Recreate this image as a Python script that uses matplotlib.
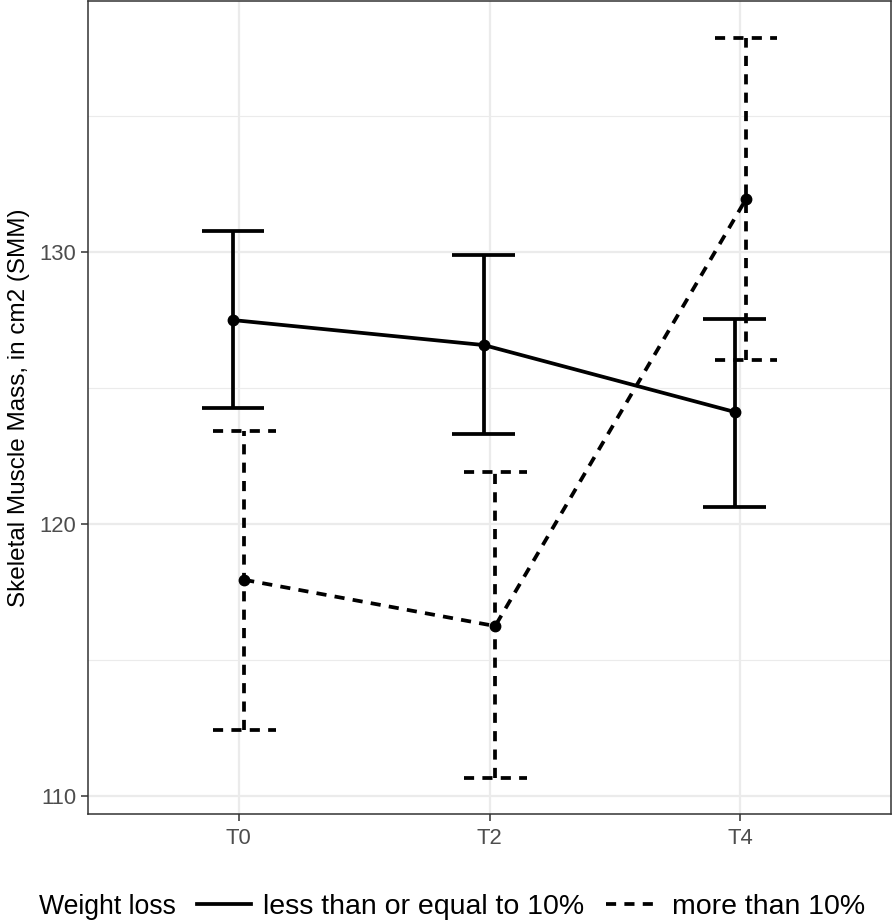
import numpy as np
import matplotlib.pyplot as plt
from matplotlib.lines import Line2D

plt.rcParams['font.family'] = ['Liberation Sans', 'DejaVu Sans']

times = ['T0', 'T2', 'T4']
groups = ['less than or equal to 10%', 'more than 10%']

# means and error-bar limits per group
le_mean = [127.49, 126.57, 124.11]
le_lo = [124.25, 123.30, 120.61]
le_hi = [130.76, 129.88, 127.53]

gt_mean = [117.94, 116.24, 131.94]
gt_lo = [112.42, 110.65, 126.02]
gt_hi = [123.41, 121.90, 137.86]

means = [le_mean, gt_mean]
lows = [le_lo, gt_lo]
highs = [le_hi, gt_hi]
styles = ['-', (0, (2.7, 2.2))]

W, H, DPI = 894, 924, 100
fig = plt.figure(figsize=(W / DPI, H / DPI), dpi=DPI)
ax = fig.add_axes([88 / W, 1 - 814 / H, (891 - 88) / W, (814 - 1) / H])

x = np.arange(len(times)) + 1
dodge = 0.045
cap = 0.125
lw = 2.7

for i, g in enumerate(groups):
    xs = x + (i - 0.5) * dodge
    ls = styles[i]
    ax.plot(xs, means[i], color='black', lw=lw, linestyle=ls, zorder=3)
    ax.vlines(xs, lows[i], highs[i], color='black', lw=lw, linestyles=[ls], zorder=3)
    ax.hlines(lows[i], xs - cap, xs + cap, color='black', lw=lw, linestyles=[ls], zorder=3)
    ax.hlines(highs[i], xs - cap, xs + cap, color='black', lw=lw, linestyles=[ls], zorder=3)
    ax.plot(xs, means[i], 'o', color='black', ms=7.5, zorder=4)

ax.set_xlim(0.4, 3.6)
ax.set_ylim(109.33, 139.22)
ax.set_xticks(x)
ax.set_xticklabels(times)
ax.set_yticks([110, 120, 130])
ax.set_yticks([115, 125, 135], minor=True)
ax.tick_params(which='major', length=5, width=1.1, color='#333333',
               labelsize=15.8, labelcolor='#4D4D4D', pad=3.5)
ax.tick_params(axis='x', pad=5)
ax.tick_params(which='minor', length=0)
ax.grid(which='major', color='#EBEBEB', lw=1.6, zorder=0)
ax.grid(which='minor', axis='y', color='#EBEBEB', lw=0.8, zorder=0)
ax.set_axisbelow(True)
for s in ax.spines.values():
    s.set_color('#333333')
    s.set_linewidth(1.1)

ax.set_ylabel('Skeletal Muscle Mass, in cm2 (SMM)', fontsize=17.5, labelpad=7)

# legend at the bottom, title on the left
fig.text(39 / W, 1 - 907 / H, 'Weight loss', fontsize=19.2, va='center', ha='left')
handles = [Line2D([], [], color='black', lw=lw, linestyle=styles[i]) for i in range(2)]
fig.legend(handles, groups, loc='center left', bbox_to_anchor=(197 / W, 1 - 907 / H),
           ncol=2, frameon=False, fontsize=20.5, handlelength=1.9, handletextpad=0.42,
           columnspacing=0.77, borderpad=0, borderaxespad=0)

fig.savefig('out.png', dpi=DPI)
